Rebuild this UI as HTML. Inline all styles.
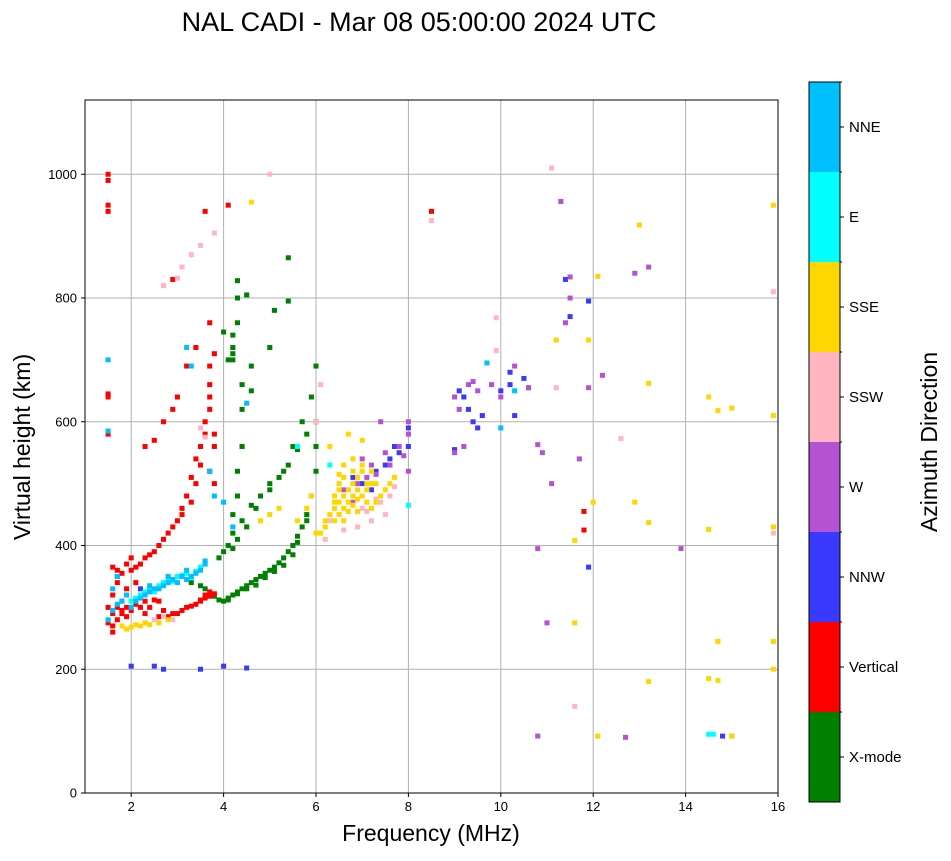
<!DOCTYPE html>
<html><head><meta charset="utf-8"><style>
body{margin:0;background:#fff;font-family:"Liberation Sans",sans-serif}
svg text{font-family:"Liberation Sans",sans-serif}
</style></head><body>
<svg id="chart" width="951" height="856" xmlns="http://www.w3.org/2000/svg">
<text x="419" y="31" font-size="27" text-anchor="middle">NAL CADI - Mar 08 05:00:00 2024 UTC</text>
<g id="grid"></g>
<g id="marks"></g>
<rect x="85" y="100" width="693" height="693" fill="none" stroke="#000" stroke-width="1"/>
<g id="axes"></g>
<text x="431" y="841" font-size="23" text-anchor="middle">Frequency (MHz)</text>
<text transform="translate(30,447) rotate(-90)" font-size="23" text-anchor="middle">Virtual height (km)</text>
<g id="cbar"></g>
<text transform="translate(937,442) rotate(-90)" font-size="23" text-anchor="middle">Azimuth Direction</text>
</svg>
<script>
const catNames=["X-mode","Vertical","NNW","W","SSW","SSE","E","NNE"];
const catColors=["#008000","#ff0000","#3a3aff","#b452d4","#ffb6c1","#ffd700","#00ffff","#00bfff"];
const xTicks=[2,4,6,8,10,12,14,16];
const yTicks=[0,200,400,600,800,1000];
const xmodeF=[3.3,3.5,3.7,3.9,4.0,4.1,4.2,4.3,4.4,4.5,4.6,4.7,4.8,4.9,5.0,5.1,5.2,5.3,5.4,5.5,5.6,5.7,5.8,5.9,6.0,6.0,6.0,3.9,4.0,4.1,4.2,4.2,4.3,4.3,4.4,4.2,4.2,4.3,4.3,4.5,4.6,5.0,5.1,5.4,5.4,4.5,4.7,5.0,5.3,5.5,5.7,5.9,6.0,4.0,4.1,4.4,4.6,10.6,3.6,3.8,4.1,4.3,4.5,4.7,4.9,5.1,5.3,5.5,5.6,5.8,4.2,4.3,4.4,4.6,4.8,5.0,5.2,5.4,5.6,5.8,4.2,4.2,4.3,4.4];
const xmodeH=[340,335,320,312,310,315,320,325,330,335,340,345,350,355,360,365,372,380,390,400,415,430,450,480,520,560,600,380,390,400,420,450,480,520,560,720,740,800,828,805,690,720,780,795,865,430,460,500,520,560,600,640,690,745,700,660,650,655,330,318,312,322,330,336,348,358,368,385,405,440,395,410,440,465,480,490,510,530,555,580,710,700,760,620];
const vertF=[1.5,1.6,1.7,1.8,1.9,2.0,2.2,2.4,2.6,2.8,3.0,3.2,3.4,3.5,3.6,3.7,3.8,1.7,1.8,2.0,2.2,2.4,2.5,2.6,2.8,3.0,3.1,3.2,3.3,3.4,3.5,3.6,3.7,3.7,3.8,2.3,2.5,2.7,2.9,3.0,3.2,3.4,1.5,1.5,1.5,1.5,1.5,1.5,1.5,3.6,3.7,4.1,3.8,3.7,3.8,2.9,8.5,11.8,11.8,1.5,1.6,1.7,1.9,2.0,2.1,1.6,1.8,2.3,2.6,1.6,1.7,1.8,1.9,2.1,2.3,2.5,2.7,2.9,3.1,3.3,3.5,3.6,3.7,1.6,1.9,2.1,2.3,2.7,2.9,3.1,3.3,3.4,3.5,3.6,3.7,3.7,3.8];
const vertH=[275,270,280,290,285,295,300,300,285,285,290,300,305,310,315,318,322,360,355,360,370,385,390,400,420,440,460,480,510,540,560,600,640,690,710,560,570,600,620,640,690,720,1000,990,950,940,645,640,580,940,760,950,580,520,500,830,940,425,455,300,320,340,330,380,340,260,310,290,310,290,300,295,300,305,310,312,295,290,295,302,312,320,325,365,370,365,380,410,430,450,470,500,530,580,620,660,560];
const nnwF=[2.0,2.5,3.5,4.0,4.5,2.7,7.5,7.8,8.0,9.0,9.2,9.4,9.6,10.2,10.3,10.5,10.0,11.9,11.9,11.4,14.8,11.5,6.8,7.2,7.6,1.7,2.2,7.0,7.3,7.7,8.0,9.1,9.3,9.5,10.2];
const nnwH=[205,205,200,205,202,200,530,550,560,555,640,600,610,680,610,670,650,795,365,830,92,770,510,490,540,350,330,500,520,560,590,650,620,590,660];
const wF=[7.0,7.2,7.5,7.8,8.0,9.0,9.2,9.5,9.3,10.0,10.6,10.9,11.1,10.8,11.4,11.5,11.5,12.9,13.2,11.3,11.7,11.9,12.2,10.8,11.0,10.8,12.7,15.0,13.9,7.4,9.1,8.0,6.9,7.3,6.6,6.8,7.1,7.6,7.9,8.0,9.0,9.4,9.8,10.3];
const wH=[540,530,550,560,580,550,560,650,660,640,655,550,500,563,760,800,834,840,850,956,540,655,675,395,275,92,90,92,395,600,620,520,500,515,490,470,510,530,545,600,640,665,660,690];
const sswF=[2.7,3.0,3.1,3.3,3.5,3.8,5.0,6.1,6.0,6.5,7.0,7.2,7.4,7.6,8.5,11.1,11.2,9.9,9.9,12.6,15.9,15.9,11.6,2.5,2.7,3.5,6.8,7.5,6.2,6.6,6.3,6.9,7.1,7.3,7.7,2.3,2.9,3.6];
const sswH=[820,832,850,870,885,905,1000,660,600,450,460,440,470,480,925,1010,655,768,715,573,810,420,140,280,285,590,500,450,410,425,440,430,455,475,495,275,280,575];
const sseF=[1.8,2.0,2.2,2.4,2.6,2.8,6.0,6.2,6.4,6.5,6.6,6.7,6.8,6.9,7.0,7.1,7.2,7.3,7.4,7.5,7.6,7.7,6.5,6.6,6.8,7.0,7.2,6.3,6.7,7.0,5.0,5.2,4.8,4.6,13.0,12.9,13.2,13.2,15.9,15.9,15.9,15.9,15.9,14.5,14.7,15.0,14.5,14.7,14.5,14.7,15.0,13.2,12.1,11.6,11.6,12.0,11.9,11.2,12.1,6.6,6.9,7.3,6.4,6.3,6.4,6.5,6.6,6.7,6.8,6.9,7.0,7.1,6.2,6.4,6.5,6.7,6.8,6.9,7.1,7.2,6.5,6.6,6.8,5.6,5.8,5.9,6.1,1.9,2.1,2.3];
const sseH=[270,268,270,272,275,280,420,430,440,450,460,470,480,490,480,470,460,470,480,490,500,510,500,510,520,530,520,560,580,570,450,460,440,955,918,470,437,662,950,610,430,245,200,640,618,622,426,245,185,182,92,180,92,275,408,470,732,732,835,440,455,500,470,450,460,470,480,490,500,510,520,500,440,480,490,455,465,475,490,500,515,530,540,440,460,480,420,265,272,275];
const eF=[2.0,2.2,2.4,2.6,2.8,3.0,3.2,3.5,8.0,14.5,14.6,5.6,6.3,2.5,3.3,2.1,2.3,2.7,2.9,3.1,3.4];
const eH=[310,320,330,335,345,350,355,365,465,95,95,560,530,325,348,315,325,340,342,352,358];
const nneF=[1.5,1.5,1.6,1.7,1.8,2.0,2.1,2.2,2.3,2.4,2.5,2.6,2.7,2.8,2.9,3.0,3.1,3.2,3.3,3.4,3.5,3.6,3.7,3.2,3.3,4.5,4.2,4.0,10.3,9.7,10.0,1.5,1.6,1.7,1.9,2.4,2.8,3.2,3.6,3.8];
const nneH=[700,585,330,350,310,300,310,315,320,325,330,330,335,340,345,340,350,345,350,355,360,370,520,720,690,630,430,470,650,695,590,280,295,305,320,335,350,360,375,480];
const seriesF=[xmodeF,vertF,nnwF,wF,sswF,sseF,eF,nneF];
const seriesH=[xmodeH,vertH,nnwH,wH,sswH,sseH,eH,nneH];

const NS="http://www.w3.org/2000/svg";
const X0=85,X1=778,Y0=793,Y1=100,FMIN=1,FMAX=16,HMIN=0,HMAX=1120;
const xs=f=>X0+(f-FMIN)/(FMAX-FMIN)*(X1-X0);
const ys=h=>Y0-(h-HMIN)/(HMAX-HMIN)*(Y0-Y1);
function mk(tag,attrs,parent){const e=document.createElementNS(NS,tag);for(const k in attrs)e.setAttribute(k,attrs[k]);parent.appendChild(e);return e;}
const grid=document.getElementById('grid'),axes=document.getElementById('axes'),marks=document.getElementById('marks'),cbar=document.getElementById('cbar');
xTicks.forEach(t=>{const x=xs(t);
 const g=mk('line',{x1:x,x2:x,y1:Y1,y2:Y0,stroke:'#b0b0b0','stroke-width':1},grid);
 
 
 mk('line',{x1:x,x2:x,y1:Y0,y2:Y0+4,stroke:'#000'},axes);
 const tx=mk('text',{x:x,y:Y0+18,'font-size':13,'text-anchor':'middle'},axes);tx.textContent=t;
 
 
});
yTicks.forEach(t=>{const y=ys(t);
 const g=mk('line',{x1:X0,x2:X1,y1:y,y2:y,stroke:'#b0b0b0','stroke-width':1},grid);
 
 
 mk('line',{x1:X0-4,x2:X0,y1:y,y2:y,stroke:'#000'},axes);
 const tx=mk('text',{x:X0-8,y:y+4.5,'font-size':13,'text-anchor':'end'},axes);tx.textContent=t;
 
 
});
const cw=(X1-X0)/(FMAX-FMIN)*0.11, ch=(Y0-Y1)/(HMAX-HMIN)*8;
seriesF.forEach((fa,ci)=>{fa.forEach((f,i)=>{
 const r=mk('rect',{x:xs(f)-cw/2,y:ys(seriesH[ci][i])-ch/2,width:cw,height:ch,fill:catColors[ci]},marks);
 
 
});});
const CB0=802,CBH=90;
catNames.forEach((n,i)=>{const y=CB0-(i+1)*CBH;
 const r=mk('rect',{x:809,y:y,width:31,height:CBH,fill:catColors[i]},cbar);
 
 
 mk('line',{x1:840,x2:844,y1:y+CBH/2,y2:y+CBH/2,stroke:'#000'},cbar);
 mk('line',{x1:840,x2:842,y1:y,y2:y,stroke:'#000'},cbar);
 const t=mk('text',{x:849,y:y+CBH/2+5,'font-size':15},cbar);t.textContent=n;
 
 
});
mk('rect',{x:809,y:82,width:31,height:720,fill:'none',stroke:'#000'},cbar);
</script>
</body></html>
